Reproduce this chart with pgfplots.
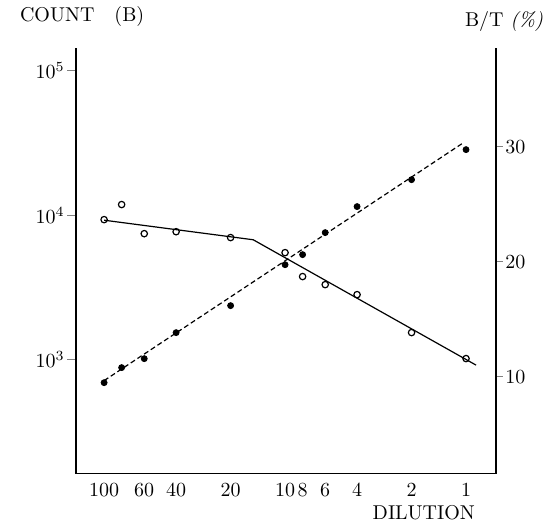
\documentclass[border=0pt]{standalone}
\usepackage{pgfplots}
\pgfplotsset{compat=1.18}
\begin{document}
\begin{tikzpicture}
\begin{axis}[
  scale only axis, width=210pt, height=213pt,
  clip=false,
  xmode=log, ymode=log, x dir=reverse,
  xmin=0.683, xmax=143,
  ymin=162.6, ymax=144200,
  axis lines*=left, axis line style={-, line width=0.8pt},
  tick align=outside, major tick length=4.5pt,
  xtick={100,60,40,20,10,8,6,4,2,1},
  xticklabels={100,60,40,20,10,8,6,4,2,1},
  xtick style={draw=none},
  xticklabel style={yshift=3.5pt},
  ytick={1000,10000,100000},
  yticklabels={$10^3$,$10^4$,$10^5$},
  yticklabel style={inner sep=1pt},
  xminorticks=false, yminorticks=false,
  ytick style={line width=0.6pt},
  tick label style={font=\fontsize{10}{12}\selectfont},
]
\addplot[black, line width=0.6pt, dash pattern=on 2.5pt off 1.5pt] coordinates {(100,716) (1.05,31300)};
\addplot[only marks, mark=*, mark size=1.5pt, black] coordinates {
(100,693) (80,881) (60,1016) (40,1538) (20,2365) (10,4540) (8,5330) (6,7570) (4,11460) (2,17600) (1,28400)};
\node[anchor=base west, font=\fontsize{10}{12}\selectfont, xshift=-31.5pt, yshift=13pt] at (rel axis cs:0,1) {COUNT\quad (B)};
\node[anchor=base east, font=\fontsize{10}{12}\selectfont, xshift=-7pt, yshift=-23pt] at (rel axis cs:1,0) {DILUTION};
\end{axis}
\begin{axis}[
  scale only axis, width=210pt, height=213pt,
  clip=false,
  xmode=log, x dir=reverse,
  xmin=0.683, xmax=143,
  ymin=1.565, ymax=38.6,
  axis x line=none, axis y line*=right, axis line style={-, line width=0.8pt},
  tick align=outside, major tick length=3.5pt,
  ytick={10,20,30},
  yticklabel style={inner sep=1pt},
  ytick style={line width=0.6pt},
  tick label style={font=\fontsize{10}{12}\selectfont},
]
\addplot[black, line width=0.6pt] coordinates {(100,23.6) (15,21.9) (0.88,11.0)};
\addplot[only marks, mark=o, mark size=1.6pt, black, line width=0.6pt, mark options={fill=white}] coordinates {
(100,23.65) (80,24.96) (60,22.43) (40,22.6) (20,22.09) (10,20.78) (8,18.70) (6,18.0) (4,17.13) (2,13.83) (1,11.57)};
\node[anchor=base west, font=\fontsize{10}{12}\selectfont, xshift=-19pt, yshift=10.5pt] at (rel axis cs:1,1) {B/T \textit{(\%)}};
\end{axis}
\path (-38pt,-25.5pt) rectangle (240pt,236pt);
\end{tikzpicture}
\end{document}
